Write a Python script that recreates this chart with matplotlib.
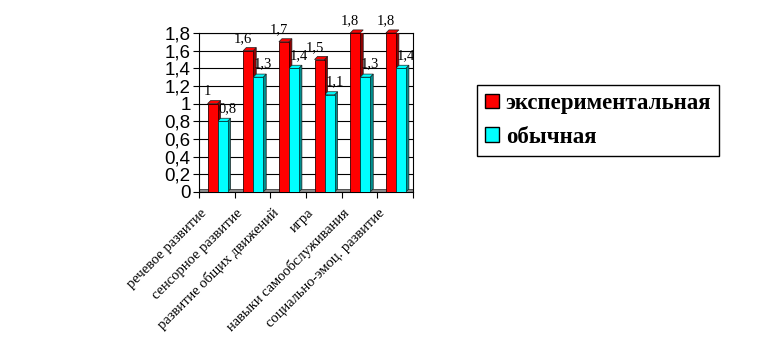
import matplotlib.pyplot as plt
from matplotlib.patches import Polygon, Patch
from matplotlib.transforms import ScaledTranslation

categories = ["речевое развитие", "сенсорное развитие", "развитие общих движений",
              "игра", "навыки самообслуживания", "социально-эмоц. развитие"]
experimental = [1.0, 1.6, 1.7, 1.5, 1.8, 1.8]
usual = [0.8, 1.3, 1.4, 1.1, 1.3, 1.4]
series_names = ["экспериментальная", "обычная"]
yticks = [0, 0.2, 0.4, 0.6, 0.8, 1.0, 1.2, 1.4, 1.6, 1.8]


def fmt(v):
    s = ("%.1f" % v).rstrip("0").rstrip(".")
    return s.replace(".", ",")


fig = plt.figure(figsize=(7.68, 3.6), dpi=100)
ax = fig.add_axes([199 / 768, 168 / 360, 214 / 768, 159 / 360])

ax.set_xlim(-0.5, 5.5)
ax.set_ylim(0, 1.8)

# depth of the fake 3d effect, in data units
ddx, ddy = 0.085, 0.035
w = 0.28

# floor strip
ax.add_patch(Polygon([(-0.5, 0), (5.5, 0), (5.5, ddy), (-0.5, ddy)],
                     closed=True, facecolor="#8c8c8c", edgecolor="#404040",
                     lw=0.6, zorder=1, clip_on=False))


def bar3d(x0, v, front, side):
    x1 = x0 + w
    ax.add_patch(Polygon([(x0, 0), (x1, 0), (x1, v), (x0, v)], closed=True,
                         facecolor=front, edgecolor="#300000" if front == "#ff0000" else "#004040",
                         lw=0.6, zorder=4))
    ax.add_patch(Polygon([(x1, 0), (x1 + ddx, ddy), (x1 + ddx, v + ddy), (x1, v)],
                         closed=True, facecolor=side, edgecolor="#202020", lw=0.5, zorder=3))
    ax.add_patch(Polygon([(x0, v), (x1, v), (x1 + ddx, v + ddy), (x0 + ddx, v + ddy)],
                         closed=True, facecolor=front, edgecolor="#202020", lw=0.5, zorder=3,
                         clip_on=False))


for i in range(len(categories)):
    xr = i - 0.12 - w / 2
    xc = i + 0.16 - w / 2
    bar3d(xr, experimental[i], "#ff0000", "#900000")
    bar3d(xc, usual[i], "#00ffff", "#009090")
    ax.annotate(fmt(experimental[i]), (i - 0.12, experimental[i]),
                xytext=(-5, 12), textcoords="offset pixels", ha="center", va="center",
                family="Liberation Serif", fontsize=10.5, zorder=6, annotation_clip=False)
    ax.annotate(fmt(usual[i]), (i + 0.16, usual[i]),
                xytext=(5, 13), textcoords="offset pixels", ha="center", va="center",
                family="Liberation Serif", fontsize=10.5, zorder=6, annotation_clip=False)

# wall grid
ax.set_yticks(yticks)
ax.set_yticklabels([fmt(v) for v in yticks], family="Liberation Sans", fontsize=13.5)
ax.yaxis.grid(True, color="black", lw=0.8)
ax.set_axisbelow(True)
ax.tick_params(axis="y", length=4, width=0.8, pad=2)
for s in ax.spines.values():
    s.set_linewidth(0.8)
    s.set_color("black")

ax.set_xticks([])
ax.set_xticks([i - 0.5 for i in range(len(categories) + 1)], minor=True)
ax.tick_params(axis="x", which="minor", length=4, width=0.8, direction="out")

off = ScaledTranslation(-0.12, -0.19, fig.dpi_scale_trans)
for i, name in enumerate(categories):
    ax.text(i, 0, name, transform=ax.get_xaxis_transform() + off,
            rotation=45, ha="right", va="center", rotation_mode="anchor",
            family="Liberation Serif", fontsize=10.5)

handles = [Patch(facecolor="#ff0000", edgecolor="black"),
           Patch(facecolor="#00ffff", edgecolor="black")]
fig.legend(handles, series_names, loc="upper left", bbox_to_anchor=(477 / 768, 275 / 360),
           borderaxespad=0, frameon=True, fancybox=False, edgecolor="black", framealpha=1,
           prop={"family": "Liberation Serif", "weight": "bold", "size": 16.5},
           handlelength=0.6, handleheight=0.6, handletextpad=0.3, labelspacing=0.55,
           borderpad=0.35)

plt.savefig("out.png", dpi=100)
